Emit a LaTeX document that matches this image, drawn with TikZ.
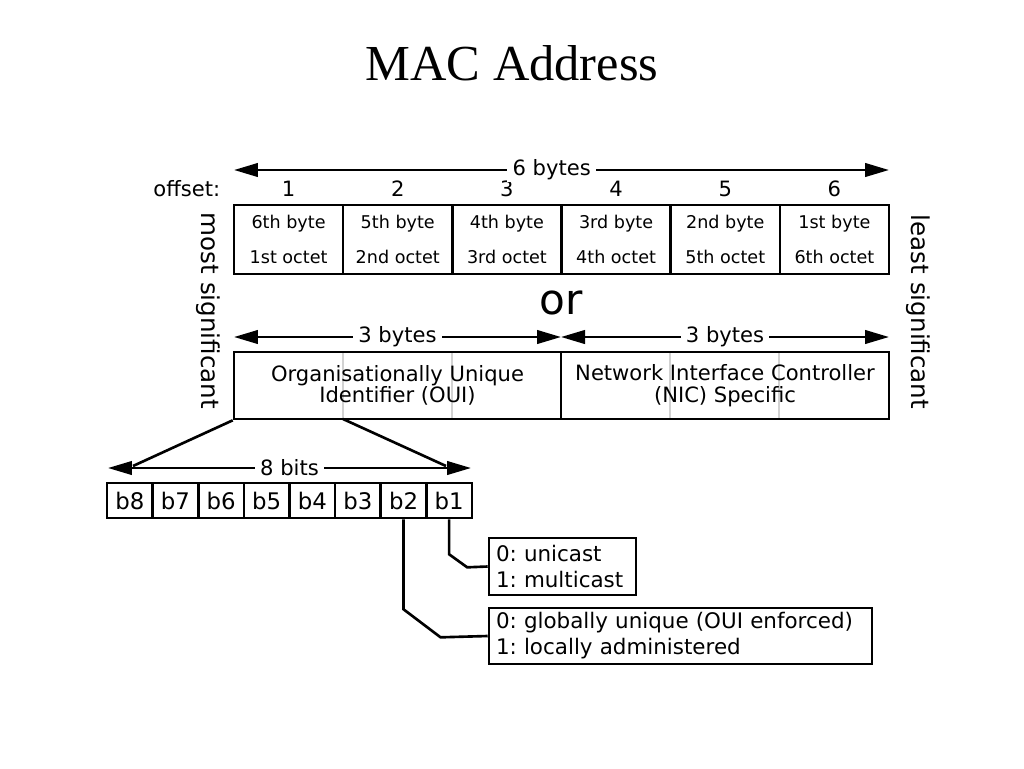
\documentclass[tikz,border=0pt]{standalone}
\usepackage{fontspec}
\setmainfont{Liberation Serif}
\newfontfamily\dejavu{DejaVu Sans}
\usetikzlibrary{arrows.meta}
\usetikzlibrary{positioning}

\begin{document}
\frenchspacing
\begin{tikzpicture}[x=0.02cm,y=-0.02cm,
    every node/.style={font=\dejavu},
    frame/.style={draw,line width=1.5pt,inner sep=0pt},
    span/.style={line width=1.5pt,{Triangle[length=0.48cm,width=0.27cm]}-{Triangle[length=0.48cm,width=0.27cm]}},
    lbl/.style={fill=white,inner xsep=3pt,inner ysep=1pt,font=\dejavu\fontsize{12}{14}\selectfont},
    num/.style={inner sep=0pt,font=\dejavu\fontsize{12}{14}\selectfont},
    tight/.style={font={\dejavu\fontsize{12}{12.3}\selectfont\lineskiplimit-20pt\lineskip0pt}},
    sep/.style={gray!35,line width=0.9pt},
    wire/.style={line width=1.5pt}]
  \useasboundingbox (0,0) rectangle (1024,768);
  \node[font=\fontsize{28.7}{32}\selectfont] (title) at (512,63) {MAC Address};

  \foreach \i/\a/\b in {1/6th/1st,2/5th/2nd,3/4th/3rd,4/3rd/4th,5/2nd/5th,6/1st/6th}{
    \node[frame,minimum width=2.184cm,minimum height=1.38cm,align=center,
      font=\dejavu\fontsize{10}{19.9}\selectfont] (c\i) at ({234+109.17*(\i-0.5)},239.5) {\a\ byte\\\b\ octet};
    \node[num,above=0.14cm of c\i] (o\i) {\i};
  }
  \node[num,left=1.22cm of o1] (offset) {offset:};
  \coordinate (six l) at (234,170);
  \coordinate (six r) at (889,170);
  \draw[span] (six l) -- (six r) node[lbl,pos=0.485] {6 bytes};

  \node[font=\dejavu\fontsize{24}{28}\selectfont,inner sep=0pt] (or) at (561,303) {or};
  \node[rotate=-90,font=\dejavu\fontsize{14}{16}\selectfont,inner sep=0pt] (msb) at (208,311) {most significant};
  \node[rotate=-90,font=\dejavu\fontsize{14}{16}\selectfont,inner sep=0pt] (lsb) at (918,312) {least significant};

  \foreach \x in {343,452,670,779}
    \draw[sep] (\x,352) -- (\x,419);
  \node[frame,tight,minimum width=6.54cm,minimum height=1.34cm,align=center] (oui) at (397.5,385.5) {Organisationally Unique\\Identifier (OUI)};
  \node[frame,tight,minimum width=6.56cm,minimum height=1.34cm,align=center] (nic) at (725,385.5) {Network Interface Controller\\(NIC) Specific};
  \coordinate (three l) at (234,337);
  \coordinate (three m) at (561,337);
  \coordinate (three r) at (889,337);
  \draw[span] (three l) -- (three m) node[lbl,midway] {3 bytes};
  \draw[span] (three m) -- (three r) node[lbl,midway] {3 bytes};

  \foreach \n in {8,...,1}
    \node[frame,minimum width=0.9125cm,minimum height=0.7cm,
      font=\dejavu\fontsize{13}{15}\selectfont] (b\n) at ({129.8+45.625*(8-\n)},500.5) {b\n};
  \coordinate (eight l) at (108,468);
  \coordinate (eight r) at (471,468);
  \coordinate (fan l) at (133,466);
  \coordinate (fan r) at (446,466);
  \coordinate (oui cut) at (343,419);
  \draw[span] (eight l) -- (eight r) node[lbl,pos=0.5] {8 bits};
  \draw[wire] (oui.south west) -- (fan l);
  \draw[wire] (oui cut) -- (fan r);

  \node[frame,minimum width=2.94cm,minimum height=1.14cm,text width=2.66cm,inner xsep=0.14cm,align=left,
    font=\dejavu\fontsize{12.2}{14.8}\selectfont] (cast) at (562.5,566.5) {0: unicast\\1: multicast};
  \node[frame,minimum width=7.66cm,minimum height=1.12cm,text width=7.38cm,inner xsep=0.14cm,align=left,
    font=\dejavu\fontsize{12.2}{14.8}\selectfont] (admin) at (680.5,636) {0: globally unique (OUI enforced)\\1: locally administered};
  \draw[wire] (b1.south) -- ++(0,35) -- ++(18,13) -- (cast.west);
  \draw[wire] (b2.south) -- ++(0,90) -- ++(37,28) -- (admin.west);
\end{tikzpicture}
\end{document}
